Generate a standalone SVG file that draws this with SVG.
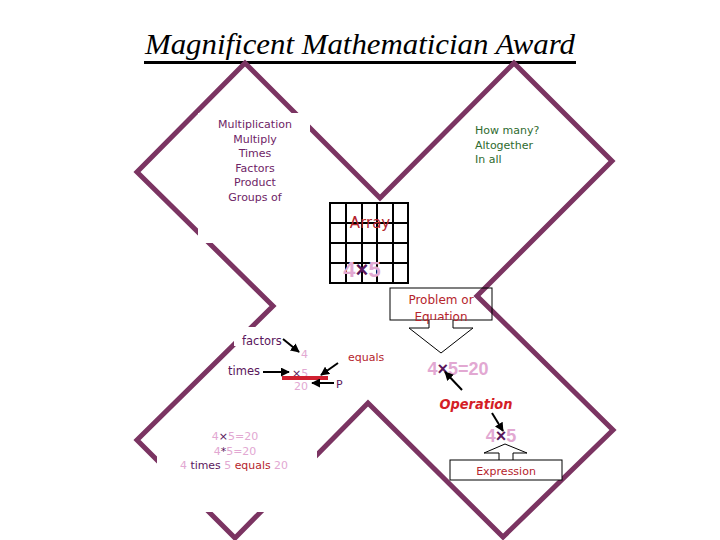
<svg xmlns="http://www.w3.org/2000/svg" width="720" height="540" viewBox="0 0 720 540">
<defs>
<style>
.frame{fill:none;stroke:#7b3462;stroke-width:5;stroke-linejoin:miter}
.mask{fill:#ffffff}
.t{font-family:"DejaVu Sans","Liberation Sans",sans-serif}
.n{font-family:"Liberation Sans","DejaVu Sans",sans-serif;font-weight:bold}
.pu{fill:#6e2466}
.dp{fill:#5a175c}
.gr{fill:#2f6b2f}
.rd{fill:#b5242c}
.pk{fill:#e2a8d2}
.conn{stroke:#000;stroke-width:2;fill:none;marker-end:url(#ah)}
.blk{fill:#fff;stroke:#000;stroke-width:1}
.grid line{stroke:#000;stroke-width:2}
</style>
<marker id="ah" viewBox="0 0 10 10" refX="9" refY="5" markerWidth="9" markerHeight="9" markerUnits="userSpaceOnUse" orient="auto">
<path d="M0,0 L10,5 L0,10 z" fill="#000"/>
</marker>
</defs>
<rect width="720" height="540" fill="#fff"/>

<g id="title">
<text x="145" y="54" font-family="'Liberation Serif',serif" font-style="italic" font-size="30" textLength="430" lengthAdjust="spacingAndGlyphs" fill="#000">Magnificent Mathematician Award</text>
<rect x="144" y="61" width="432" height="3" fill="#000"/>
</g>

<g id="frame">
<polygon class="frame" points="245,63 380,198 514,63 612,161 477,296 613,430 503,537 368,403 235,538 137,440 273,306 137,172"/>
</g>

<g id="masks">
<rect class="mask" x="198" y="113" width="112" height="130"/>
<rect class="mask" x="157" y="426" width="160" height="86"/>
<rect class="mask" x="234" y="327" width="56" height="19"/>
</g>

<g id="words" class="t pu" font-size="11" text-anchor="middle">
<text x="255" y="128">Multiplication</text>
<text x="255" y="143">Multiply</text>
<text x="255" y="157">Times</text>
<text x="255" y="172">Factors</text>
<text x="255" y="186">Product</text>
<text x="255" y="201">Groups of</text>
</g>

<g id="howmany" class="t gr" font-size="11">
<text x="475" y="134">How many?</text>
<text x="475" y="149">Altogether</text>
<text x="475" y="163">In all</text>
</g>

<g id="array">
<g class="grid">
<line x1="330" y1="203" x2="330" y2="283"/>
<line x1="346" y1="203" x2="346" y2="283"/>
<line x1="362" y1="203" x2="362" y2="283"/>
<line x1="377" y1="203" x2="377" y2="283"/>
<line x1="393" y1="203" x2="393" y2="283"/>
<line x1="408" y1="203" x2="408" y2="283"/>
<line x1="329" y1="203" x2="409" y2="203"/>
<line x1="329" y1="223" x2="409" y2="223"/>
<line x1="329" y1="243" x2="409" y2="243"/>
<line x1="329" y1="263" x2="409" y2="263"/>
<line x1="329" y1="283" x2="409" y2="283"/>
</g>
<text class="t rd" x="370" y="228" font-size="15" text-anchor="middle">Array</text>
<text class="n" x="362" y="277" font-size="22" text-anchor="middle"><tspan class="pk">4</tspan><tspan class="dp">×</tspan><tspan class="pk">5</tspan></text>
</g>

<g id="problem">
<rect x="390" y="288" width="102" height="32" fill="none" stroke="#000" stroke-width="1"/>
<text class="t rd" x="441" y="304" font-size="12" text-anchor="middle">Problem or</text>
<text class="t rd" x="441" y="321" font-size="12" text-anchor="middle">Equation</text>
<polyline class="blk" points="429,320 429,328 409,328 441,353 473,328 453,328 453,320"/>
</g>

<g id="equation">
<text class="n" x="458" y="375" font-size="18" text-anchor="middle"><tspan class="pk">4</tspan><tspan class="dp">×</tspan><tspan class="pk">5=20</tspan></text>
</g>

<g id="operation">
<text class="t" x="476" y="409" font-size="14" font-weight="bold" font-style="italic" fill="#d41e26" text-anchor="middle" textLength="73" lengthAdjust="spacingAndGlyphs">Operation</text>
</g>

<g id="expression">
<text class="n" x="501" y="442" font-size="18" text-anchor="middle"><tspan class="pk">4</tspan><tspan class="dp">×</tspan><tspan class="pk">5</tspan></text>
<polyline class="blk" points="499,460 499,453 484,453 505,444 527,453 513,453 513,460"/>
<rect x="450" y="460" width="112" height="20" fill="#fff" stroke="#000" stroke-width="1"/>
<text class="t rd" x="506" y="475" font-size="11" text-anchor="middle">Expression</text>
</g>

<g id="vertical-form" class="t" font-size="11">
<text class="dp" x="242" y="345" font-size="11.5">factors</text>
<text class="pk" x="301" y="358">4</text>
<text class="dp" x="228" y="375" font-size="11.5">times</text>
<text x="292" y="377"><tspan class="dp">×</tspan><tspan class="pk">5</tspan></text>
<rect x="282" y="376" width="46" height="4" fill="#d02030"/>
<text class="pk" x="294" y="390">20</text>
<text class="dp" x="336" y="388">P</text>
<text class="rd" x="348" y="361">equals</text>
</g>

<g id="forms" class="t" font-size="11" text-anchor="middle">
<text x="235" y="440"><tspan class="pk">4</tspan><tspan class="dp">×</tspan><tspan class="pk">5=20</tspan></text>
<text x="235" y="455"><tspan class="pk">4</tspan><tspan class="dp">*</tspan><tspan class="pk">5=20</tspan></text>
<text x="234" y="469" textLength="108" lengthAdjust="spacingAndGlyphs"><tspan class="pk">4 </tspan><tspan class="dp">times </tspan><tspan class="pk">5 </tspan><tspan class="rd">equals </tspan><tspan class="pk">20</tspan></text>
</g>

<g id="connectors">
<line class="conn" x1="283" y1="339" x2="299" y2="352"/>
<line class="conn" x1="263" y1="372" x2="289" y2="372"/>
<line class="conn" x1="338" y1="363" x2="321" y2="375"/>
<line class="conn" x1="334" y1="383" x2="312" y2="383"/>
<line class="conn" x1="462" y1="390" x2="445" y2="372"/>
<line class="conn" x1="492" y1="413" x2="503" y2="431"/>
</g>
</svg>
